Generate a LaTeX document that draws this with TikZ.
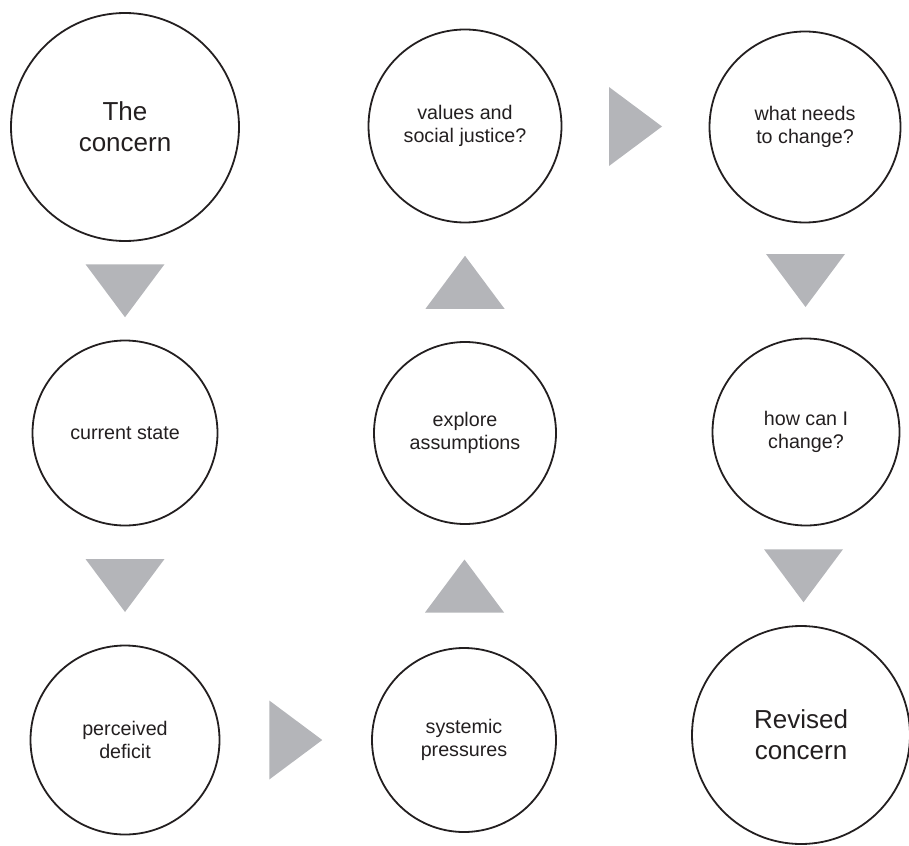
\documentclass[tikz,border=0pt]{standalone}
\usepackage{fontspec}
\setmainfont{Liberation Sans}
\usetikzlibrary{calc}
\definecolor{inkdark}{RGB}{35,31,32}
\definecolor{arrowgray}{RGB}{180,181,185}
\begin{document}
\begin{tikzpicture}[x=1pt,y=-1pt]
\tikzstyle{every node}+=[inner sep=0pt]
\tikzstyle{bubble}=[draw=inkdark,line width=1.8pt,circle,align=center,text=inkdark,font=\fontsize{19.7}{23}\selectfont]
\tikzstyle{bigbubble}=[bubble,font=\fontsize{26}{31}\selectfont]
\tikzstyle{pointer}=[fill=arrowgray]
\useasboundingbox (0,0) rectangle (909,845);
\node[bigbubble,minimum size=228pt] (concern) at (125,127) {The\\concern};
\node[bubble,minimum size=185pt] (current) at (125,433) {current state};
\node[bubble,minimum size=189pt] (deficit) at (125,740) {perceived\\deficit};
\node[bubble,minimum size=184pt] (pressures) at (464,740) {systemic\\pressures};
\node[bubble,minimum size=182pt] (assumptions) at (465,433) {explore\\assumptions};
\node[bubble,minimum size=193pt] (values) at (465,126) {values and\\social justice?};
\node[bubble,minimum size=191pt] (needs) at (805,127) {what needs\\to change?};
\node[bubble,minimum size=187pt] (how) at (806,432) {how can I\\change?};
\node[bigbubble,minimum size=218pt] (revised) at (801,735) {Revised\\concern};
\fill[pointer] ($(concern.south)!0.5!(current.north)$) +(-39.5,-26.5) -- +(39.5,-26.5) -- +(0,26.5) -- cycle;
\fill[pointer] ($(current.south)!0.5!(deficit.north)$) +(-39.5,-26.5) -- +(39.5,-26.5) -- +(0,26.5) -- cycle;
\fill[pointer] ($(deficit.east)!0.5!(pressures.west)$) +(-26.5,-39.5) -- +(-26.5,39.5) -- +(26.5,0) -- cycle;
\fill[pointer] ($(pressures.north)!0.5!(assumptions.south)$) +(-39.5,26.5) -- +(39.5,26.5) -- +(0,-26.5) -- cycle;
\fill[pointer] ($(assumptions.north)!0.5!(values.south)$) +(-39.5,26.5) -- +(39.5,26.5) -- +(0,-26.5) -- cycle;
\fill[pointer] ($(values.east)!0.5!(needs.west)$) +(-26.5,-39.5) -- +(-26.5,39.5) -- +(26.5,0) -- cycle;
\fill[pointer] ($(needs.south)!0.5!(how.north)$) +(-39.5,-26.5) -- +(39.5,-26.5) -- +(0,26.5) -- cycle;
\fill[pointer] ($(how.south)!0.5!(revised.north)$) +(-39.5,-26.5) -- +(39.5,-26.5) -- +(0,26.5) -- cycle;
\end{tikzpicture}
\end{document}
